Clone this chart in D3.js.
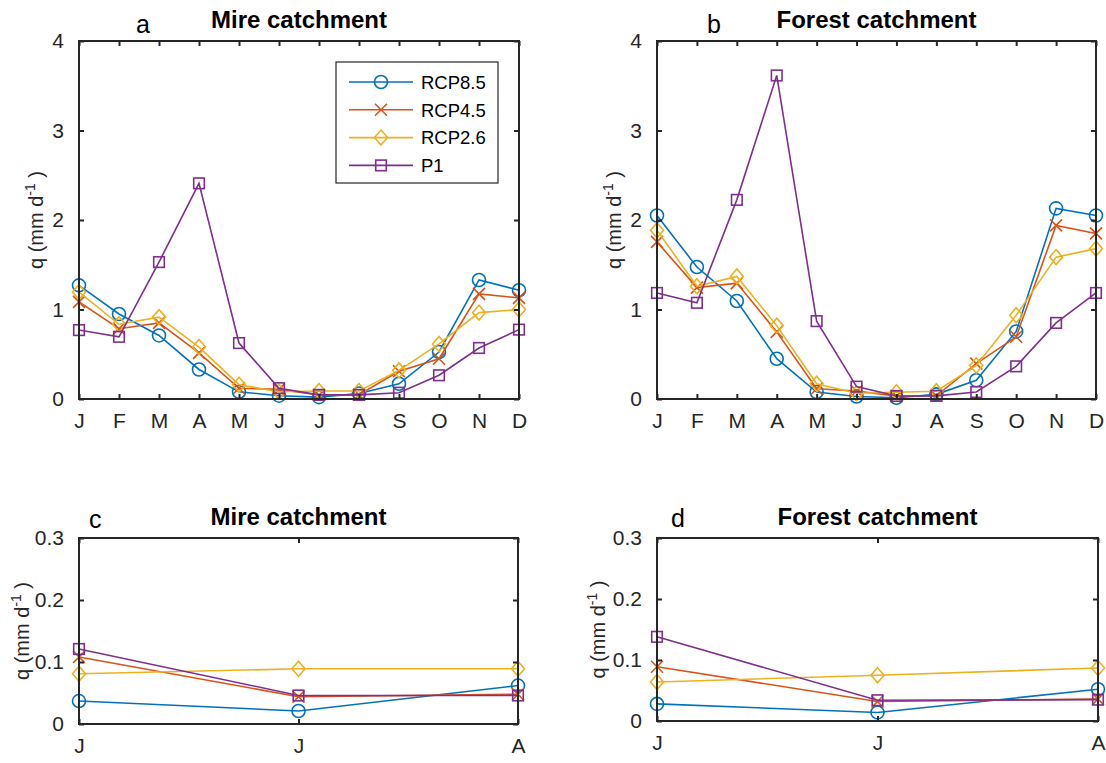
<!DOCTYPE html>
<html lang="en">
<head>
<meta charset="utf-8">
<title>q by month</title>
<style>
  body { margin: 0; background: #fff; }
  svg { display: block; font-family: "Liberation Sans", Arial, Helvetica, sans-serif; }
</style>
</head>
<body>
<svg width="1106" height="763"></svg>
<script src="https://cdn.jsdelivr.net/npm/d3@7"></script>
<script>

// ---- data ----
const months = ["J","F","M","A","M","J","J","A","S","O","N","D"]
const summerIdx = [5, 6, 7]            // Jun, Jul, Aug for the zoomed panels
const seriesNames = ["RCP8.5", "RCP4.5", "RCP2.6", "P1"]

const mireRcp85 = [1.27, 0.95, 0.71, 0.33, 0.08, 0.037, 0.021, 0.062, 0.17, 0.525, 1.33, 1.215]
const mireRcp45 = [1.085, 0.785, 0.85, 0.515, 0.12, 0.108, 0.044, 0.048, 0.31, 0.45, 1.175, 1.13]
const mireRcp26 = [1.195, 0.835, 0.915, 0.58, 0.16, 0.081, 0.089, 0.089, 0.32, 0.615, 0.965, 1.0]
const mireP1    = [0.77, 0.695, 1.53, 2.41, 0.625, 0.121, 0.046, 0.046, 0.07, 0.265, 0.57, 0.775]

const forestRcp85 = [2.05, 1.475, 1.095, 0.45, 0.078, 0.028, 0.014, 0.052, 0.21, 0.755, 2.13, 2.05]
const forestRcp45 = [1.755, 1.245, 1.295, 0.75, 0.115, 0.089, 0.032, 0.036, 0.395, 0.695, 1.94, 1.85]
const forestRcp26 = [1.885, 1.26, 1.37, 0.82, 0.17, 0.064, 0.075, 0.087, 0.375, 0.935, 1.585, 1.68]
const forestP1    = [1.185, 1.075, 2.225, 3.615, 0.87, 0.138, 0.034, 0.035, 0.078, 0.365, 0.85, 1.185]

const yTicksYear = [0, 1, 2, 3, 4]
const yTicksSummer = [0, 0.1, 0.2, 0.3]

// ---- styles ----
const colors = ["#0072BD", "#D95319", "#EDB120", "#7E2F8E"]
const markers = ["circle", "x", "diamond", "square"]
const axisColor = "#262626"

const svg = d3.select("svg")
svg.append("rect").attr("width", 1106).attr("height", 763).attr("fill", "#fff")

const mire = [mireRcp85, mireRcp45, mireRcp26, mireP1]
const forest = [forestRcp85, forestRcp45, forestRcp26, forestP1]
const pick = arr => summerIdx.map(i => arr[i])

const panels = [
  {left: 79, right: 519, top: 41, bottom: 399, letter: "a", lx: 136, ly: 33, title: "Mire catchment", ty: 28,
   cats: months, series: mire, ymax: 4, ticks: yTicksYear, ylab: 42.5, legend: true},
  {left: 657, right: 1096, top: 41, bottom: 399, letter: "b", lx: 707, ly: 33, title: "Forest catchment", ty: 28,
   cats: months, series: forest, ymax: 4, ticks: yTicksYear, ylab: 620.5},
  {left: 79, right: 518, top: 538, bottom: 724, letter: "c", lx: 89, ly: 528, title: "Mire catchment", ty: 525,
   cats: summerIdx.map(i => months[i]), series: mire.map(pick), ymax: 0.3, ticks: yTicksSummer, ylab: 29},
  {left: 657, right: 1098, top: 538, bottom: 721, letter: "d", lx: 671, ly: 527, title: "Forest catchment", ty: 525,
   cats: summerIdx.map(i => months[i]), series: forest.map(pick), ymax: 0.3, ticks: yTicksSummer, ylab: 605}
]

function drawMarker(g, type, cx, cy, color) {
  if (type === "circle") {
    g.append("circle").attr("cx", cx).attr("cy", cy).attr("r", 6.5)
      .attr("fill", "none").attr("stroke", color).attr("stroke-width", 1.6)
  } else if (type === "x") {
    const s = 6
    g.append("path").attr("d", `M${cx-s},${cy-s}L${cx+s},${cy+s}M${cx-s},${cy+s}L${cx+s},${cy-s}`)
      .attr("fill", "none").attr("stroke", color).attr("stroke-width", 1.6)
  } else if (type === "diamond") {
    const w = 6.5, h = 7.5
    g.append("path").attr("d", `M${cx},${cy-h}L${cx+w},${cy}L${cx},${cy+h}L${cx-w},${cy}Z`)
      .attr("fill", "none").attr("stroke", color).attr("stroke-width", 1.6)
  } else {
    const s = 5.3
    g.append("rect").attr("x", cx - s).attr("y", cy - s).attr("width", 2*s).attr("height", 2*s)
      .attr("fill", "none").attr("stroke", color).attr("stroke-width", 1.6)
  }
}

panels.forEach(p => {
  const x = d3.scalePoint().domain(d3.range(p.cats.length)).range([p.left, p.right])
  const y = d3.scaleLinear().domain([0, p.ymax]).range([p.bottom, p.top])
  const g = svg.append("g")

  // series lines and markers
  p.series.forEach((vals, si) => {
    const line = d3.line().x((d, i) => x(i)).y(d => y(d))
    g.append("path").datum(vals).attr("d", line)
      .attr("fill", "none").attr("stroke", colors[si]).attr("stroke-width", 1.6)
    const mg = g.append("g")
    vals.forEach((v, i) => drawMarker(mg, markers[si], x(i), y(v), colors[si]))
  })

  // axes (MATLAB style box, inward ticks on all sides)
  const axB = d3.axisBottom(x).tickSize(-5).tickFormat(i => p.cats[i]).tickPadding(14)
  const axT = d3.axisTop(x).tickSize(-5).tickFormat("")
  const axL = d3.axisLeft(y).tickValues(p.ticks).tickSize(-5).tickPadding(15).tickFormat(d3.format("~g"))
  const axR = d3.axisRight(y).tickValues(p.ticks).tickSize(-5).tickFormat("")

  const styleAxis = sel => {
    sel.select(".domain").attr("stroke", axisColor).attr("stroke-width", 2)
    sel.selectAll(".tick line").attr("stroke", axisColor).attr("stroke-width", 2)
    sel.selectAll(".tick text").attr("fill", axisColor).style("font-size", "21px")
      .style("font-family", "'Liberation Sans', Arial, sans-serif")
  }
  g.append("g").attr("transform", `translate(0,${p.bottom})`).call(axB).call(styleAxis)
  g.append("g").attr("transform", `translate(0,${p.top})`).call(axT).call(styleAxis)
  g.append("g").attr("transform", `translate(${p.left},0)`).call(axL).call(styleAxis)
  g.append("g").attr("transform", `translate(${p.right},0)`).call(axR).call(styleAxis)
  g.selectAll(".domain").attr("d", null)
  g.append("rect").attr("x", p.left).attr("y", p.top)
    .attr("width", p.right - p.left).attr("height", p.bottom - p.top)
    .attr("fill", "none").attr("stroke", axisColor).attr("stroke-width", 2)

  // title and panel letter
  g.append("text").attr("x", (p.left + p.right) / 2).attr("y", p.ty)
    .attr("text-anchor", "middle").style("font-size", "24px").style("font-weight", 700)
    .attr("fill", "#000").text(p.title)
  g.append("text").attr("x", p.lx).attr("y", p.ly)
    .style("font-size", "25px").attr("fill", "#000").text(p.letter)

  // y label
  const yl = g.append("text")
    .attr("transform", `translate(${p.ylab},${(p.top + p.bottom) / 2}) rotate(-90)`)
    .attr("text-anchor", "middle").style("font-size", "20px").attr("fill", axisColor)
  yl.append("tspan").text("q (mm d")
  yl.append("tspan").attr("dy", -8).style("font-size", "14px").text("-1")
  yl.append("tspan").attr("dy", 8).text(" )")

  if (p.legend) {
    const lg = g.append("g")
    lg.append("rect").attr("x", 336).attr("y", 62).attr("width", 162).attr("height", 121)
      .attr("fill", "#fff").attr("stroke", axisColor).attr("stroke-width", 1.2)
    seriesNames.forEach((name, si) => {
      const ry = 82 + si * 27.8
      lg.append("line").attr("x1", 349).attr("x2", 413).attr("y1", ry).attr("y2", ry)
        .attr("stroke", colors[si]).attr("stroke-width", 1.6)
      drawMarker(lg, markers[si], 381, ry, colors[si])
      lg.append("text").attr("x", 421).attr("y", ry + 6.7).style("font-size", "18.5px")
        .attr("fill", "#000").text(name)
    })
  }
})
</script>
</body>
</html>
